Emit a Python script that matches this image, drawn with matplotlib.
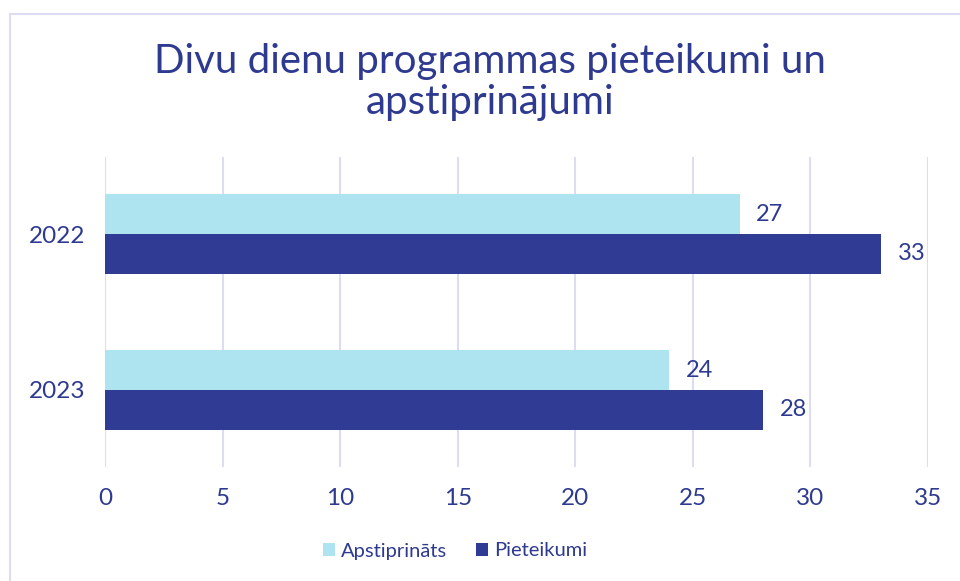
import matplotlib
matplotlib.use("Agg")
import matplotlib.pyplot as plt
from matplotlib.patches import Rectangle
import numpy as np

# Data
years = ['2022', '2023']
apstiprinats = [27, 24]
pieteikumi = [33, 28]
xticks = [0, 5, 10, 15, 20, 25, 30, 35]

light = '#ade4f0'
dark = '#303b93'
txt = '#2e3a8f'
grid = '#dcddf3'

plt.rcParams['font.family'] = ['Lato', 'DejaVu Sans']

fig = plt.figure(figsize=(9.6, 5.81), dpi=100)
ax = fig.add_axes([105/960, 1-467/581, 823/960, 310/581])

# outer chart border
fig.patches.append(Rectangle((10/960, -0.1), 1.0, 1-14/581+0.1, transform=fig.transFigure,
                             fill=False, edgecolor=grid, linewidth=1.5))

y = np.arange(len(years))
h = 0.256
ax.barh(y - h/2, apstiprinats, height=h, color=light, label='Apstiprināts')
ax.barh(y + h/2, pieteikumi, height=h, color=dark, label='Pieteikumi')

for i in range(len(years)):
    ax.text(apstiprinats[i] + 0.7, y[i] - h/2, str(apstiprinats[i]), va='center', ha='left',
            color=txt, fontsize=17)
    ax.text(pieteikumi[i] + 0.7, y[i] + h/2, str(pieteikumi[i]), va='center', ha='left',
            color=txt, fontsize=17)

ax.set_xlim(0, 35)
ax.set_ylim(1.494, -0.494)
ax.set_xticks(xticks)
ax.set_yticks(y)
ax.set_yticklabels(years)
ax.tick_params(axis='both', length=0, labelcolor=txt, labelsize=17.5)
ax.tick_params(axis='x', pad=15)
ax.tick_params(axis='y', pad=14)
ax.grid(axis='x', color=grid, linewidth=1.5)
ax.set_axisbelow(True)
for s in ax.spines.values():
    s.set_visible(False)

fig.text(490/960, 1-82/581, 'Divu dienu programmas pieteikumi un\napstiprinājumi',
         ha='center', va='center', color=txt, fontsize=29, linespacing=1.12)

fig.legend(loc='center', bbox_to_anchor=(455/960, 1-551/581), ncol=2, frameon=False,
           fontsize=14.5, labelcolor=txt, handlelength=0.6, handleheight=0.6,
           handletextpad=0.3, columnspacing=1.4)

fig.savefig('out.png', dpi=100)
